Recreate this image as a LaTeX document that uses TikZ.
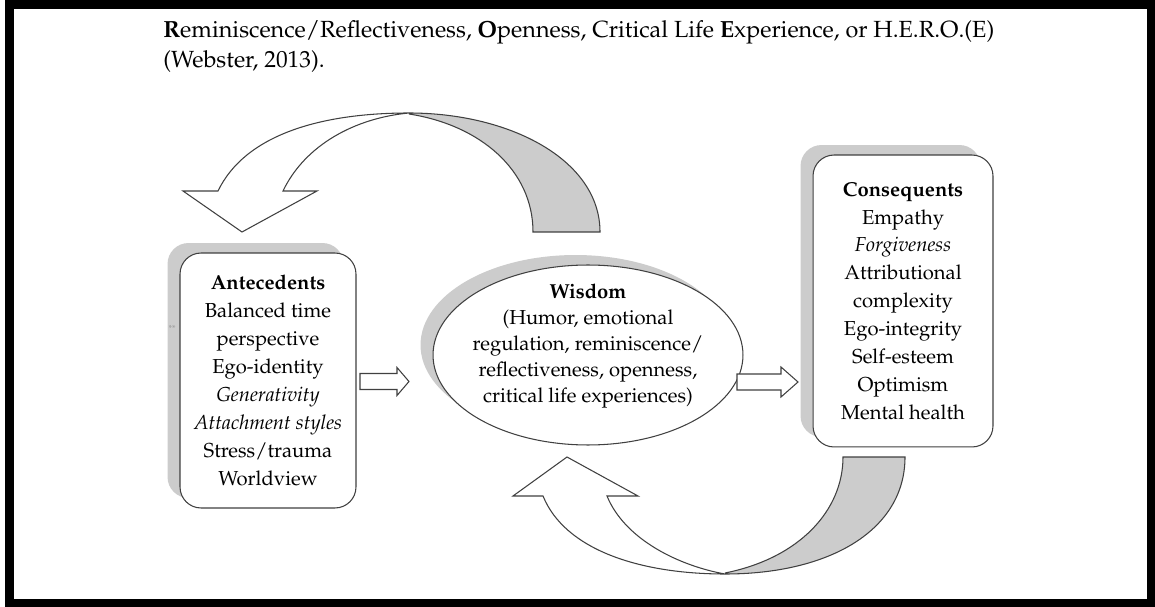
\documentclass[tikz,border=0pt]{standalone}
\usepackage[T1]{fontenc}
\usepackage{mathpazo}
\usetikzlibrary{positioning,shapes.geometric,shadows}

\begin{document}
\begin{tikzpicture}[x=0.02cm, y=-0.02cm,
  box/.style = {draw=black!75, line width=0.6pt, fill=white, rounded corners=0.42cm, align=center,
    inner sep=0pt, font=\fontsize{11.5}{15.9}\selectfont},
  wis/.style = {draw=black!75, line width=0.6pt, fill=white, ellipse, inner sep=0pt,
    minimum width=6.2cm, minimum height=3.6cm},
  shade/.style = {drop shadow={shadow xshift=-0.25cm, shadow yshift=0.2cm, fill=black!20, opacity=1}},
  curve/.style = {draw=black!75, line width=0.6pt},
  blockarr/.style = {draw=black!75, line width=0.6pt, fill=white}]
\useasboundingbox (0,0) rectangle (1155,607);
\fill[white] (0,0) rectangle (1155,607);
\draw[line width=0.17cm] (9.5,4.5) rectangle (1151.5,603);

% heading text
\node (ttl) [anchor=base west, inner sep=0pt, font=\fontsize{13.3}{17}\selectfont] at (163,38)
  {\textbf{R}eminiscence/Reflectiveness, \textbf{O}penness, Critical Life \textbf{E}xperience, or H.E.R.O.(E)};
\node (cite) [anchor=base west, inner sep=0pt, font=\fontsize{13.3}{17}\selectfont] at (163,68) {(Webster, 2013).};

% boxes
\node (ante) [box, shade, minimum width=3.52cm, minimum height=5.1cm] at (268,380.5)
  {\textbf{Antecedents}\\Balanced time\\perspective\\Ego-identity\\\textit{Generativity}\\
   \textit{Attachment styles}\\Stress/trauma\\Worldview};
\node (cons) [box, shade, minimum width=3.6cm, minimum height=5.84cm] at (903,301)
  {\textbf{Consequents}\\Empathy\\\textit{Forgiveness}\\Attributional\\complexity\\Ego-integrity\\
   Self-esteem\\Optimism\\Mental health};
\node (wisdom) [wis, shade] at (588,355) {};
\node (wistext) [align=center, inner sep=0pt, font=\fontsize{11.5}{14.8}\selectfont] at (588,346)
  {\textbf{Wisdom}\\(Humor, emotional\\regulation, reminiscence/\\reflectiveness, openness,\\critical life experiences)};
\node (mark) [text=black!40, font=\tiny, inner sep=0pt] at (172,328) {**};

% straight arrows
\draw[blockarr] (360,373.5) -- (397,373.5) -- (397,367.5) -- (409,381.5) -- (397,395.5) -- (397,389.5)
  -- (360,389.5) -- cycle;
\draw[blockarr] (737,374) -- (781,374) -- (781,367) -- (798,382) -- (781,397) -- (781,390)
  -- (737,390) -- cycle;

% curved arrow on top
\fill[black!20] (409,113) .. controls (510,113) and (600,160) .. (600,232) -- (533,232)
  .. controls (533,170) and (480,125) .. (409,114) -- cycle;
\draw[curve] (409,113) .. controls (510,113) and (600,160) .. (600,232) -- (533,232)
  .. controls (533,170) and (480,125) .. (409,114);
\draw[curve, fill=white] (218,191) .. controls (245,135) and (320,113) .. (409,113)
  .. controls (355,118) and (305,145) .. (283,191) -- (317,191) -- (242,232) -- (183,191) -- cycle;

% curved arrow at bottom
\fill[black!20] (725,574) .. controls (830,574) and (905,530) .. (905,457) -- (843,457)
  .. controls (843,510) and (800,558) .. (725,573) -- cycle;
\draw[curve] (725,574) .. controls (830,574) and (905,530) .. (905,457) -- (843,457)
  .. controls (843,510) and (800,558) .. (725,573);
\draw[curve, fill=white] (543,496) .. controls (565,550) and (640,574) .. (725,574)
  .. controls (680,566) and (625,540) .. (607,496) -- (638,496) -- (567,457) -- (513,496) -- cycle;
\end{tikzpicture}
\end{document}
